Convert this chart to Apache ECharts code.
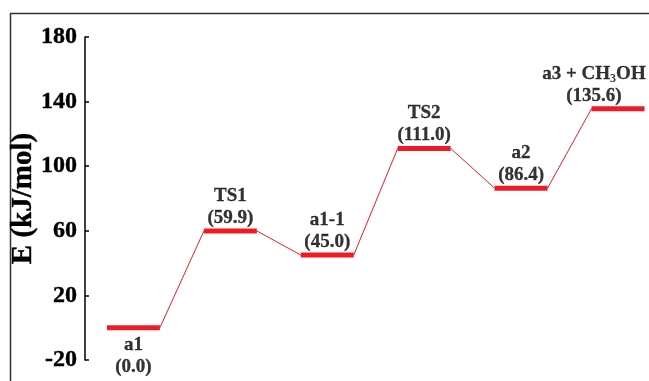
<!DOCTYPE html>
<html>
<head>
<meta charset="utf-8">
<script src="https://cdn.jsdelivr.net/npm/echarts@6/dist/echarts.min.js"></script>
<style>
  html, body { margin: 0; padding: 0; background: #fff; }
  #main { width: 649px; height: 381px; }
</style>
</head>
<body>
<div id="main"></div>
<script>
// states along the reaction path and their energies (kJ/mol)
var states = ['a1', 'TS1', 'a1-1', 'TS2', 'a2', 'a3 + CH3OH'];
var energies = [0.0, 59.9, 45.0, 111.0, 86.4, 135.6];
var yTicks = [-20, 20, 60, 100, 140, 180];

var serif = "'Liberation Serif', 'Times New Roman', serif";
var red = '#ed1c24';
var hw = 0.273; // half width of a level (x units)

var myChart = echarts.init(document.getElementById('main'));

// thick level bars, separated by '-' so they don't connect
var levelData = [];
// thin path: through both ends of every level
var pathData = [];
energies.forEach(function (e, i) {
    levelData.push([i - hw, e], [i + hw, e], '-');
    pathData.push([i - hw, e], [i + hw, e]);
});

var labelData = energies.map(function (e, i) {
    var item = { value: [i, e] };
    if (i === 0) {
        item.label = { position: 'bottom', distance: 6 };
    }
    if (i === states.length - 1) {
        item.label = { offset: [-24, 0] };
    }
    return item;
});

var option = {
    animation: false,
    grid: { left: 85, right: 0, top: 37, bottom: 21, containLabel: false, outerBoundsMode: 'none' },
    graphic: [{
        type: 'rect',
        left: 8, top: 11,
        shape: { width: 700, height: 420 },
        style: { fill: 'none', stroke: '#333', lineWidth: 1.5 },
        silent: true
    }],
    xAxis: {
        type: 'value',
        min: -0.5,
        max: 5.32,
        show: false
    },
    yAxis: {
        type: 'value',
        min: -20,
        max: 180,
        name: 'E (kJ/mol)',
        nameLocation: 'middle',
        nameGap: 47,
        nameMoveOverlap: false,
        nameTextStyle: { fontFamily: serif, fontWeight: 'bold', fontSize: 29, color: '#000', textBorderColor: '#000', textBorderWidth: 0.4 },
        splitLine: { show: false },
        axisLine: { show: true, onZero: false, lineStyle: { color: '#000', width: 1.5 } },
        axisTick: { show: true, inside: true, length: 4, customValues: yTicks, lineStyle: { color: '#000', width: 1.5 } },
        axisLabel: { customValues: yTicks, fontFamily: serif, fontWeight: 'bold', fontSize: 24, color: '#000', margin: 8, textBorderColor: '#000', textBorderWidth: 0.4 }
    },
    series: [
        {
            type: 'line',
            data: pathData,
            symbol: 'none',
            lineStyle: { color: red, width: 1 },
            z: 2
        },
        {
            type: 'line',
            data: levelData,
            symbol: 'none',
            connectNulls: false,
            lineStyle: { color: red, width: 5, cap: 'butt' },
            z: 3
        },
        {
            type: 'scatter',
            data: labelData,
            symbolSize: 0,
            z: 4,
            label: {
                show: true,
                position: 'top',
                distance: 2,
                formatter: function (p) {
                    var name = states[p.dataIndex].replace('CH3OH', '}{n|CH}{sub|3}{n|OH');
                    var val = energies[p.dataIndex].toFixed(1);
                    return '{n|' + name + '}\n{n|(' + val + ')}';
                },
                rich: {
                    n: { fontFamily: serif, fontWeight: 'bold', fontSize: 19, lineHeight: 22, color: '#000', textBorderColor: '#000', textBorderWidth: 0.3 },
                    sub: { fontFamily: serif, fontWeight: 'bold', fontSize: 12, color: '#000', padding: [10, 0, 0, 0], lineHeight: 22 }
                }
            }
        }
    ]
};

myChart.setOption(option);
</script>
</body>
</html>
